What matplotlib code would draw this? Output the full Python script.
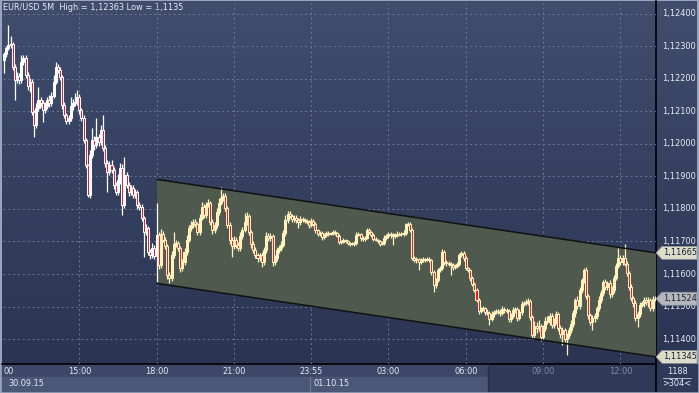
import numpy as np
import matplotlib.pyplot as plt
from matplotlib.patches import Rectangle, Polygon

# EUR/USD 5M candles, prices in points (1e-5) above 1.11000
open_first = 1258
close_pts = [
    1277, 1295, 1305, 1308, 1237, 1197, 1209, 1197, 1252, 1265,
    1212, 1178, 1191, 1098, 1058, 1111, 1135, 1126, 1105, 1117,
    1135, 1126, 1148, 1191, 1237, 1228, 1206, 1120, 1089, 1071,
    1080, 1117, 1126, 1129, 1145, 1105, 1080, 1012, 935, 843,
    966, 1012, 997, 1021, 1006, 1043, 988, 941, 914, 935,
    920, 874, 852, 889, 926, 812, 905, 874, 852, 865,
    843, 852, 812, 806, 772, 729, 741, 668, 658, 680,
    655, 720, 628, 723, 705, 686, 597, 588, 658, 692,
    695, 680, 618, 637, 668, 705, 741, 751, 760, 754,
    729, 772, 806, 781, 812, 818, 760, 735, 751, 791,
    818, 834, 840, 803, 751, 705, 686, 705, 689, 680,
    717, 735, 760, 778, 729, 692, 674, 658, 649, 658,
    637, 674, 717, 711, 717, 637, 649, 674, 680, 689,
    726, 766, 785, 778, 769, 772, 766, 760, 769, 766,
    763, 760, 751, 763, 754, 735, 723, 726, 714, 720,
    726, 723, 726, 729, 726, 717, 698, 698, 705, 701,
    695, 692, 692, 695, 720, 723, 711, 708, 711, 735,
    729, 720, 708, 705, 701, 692, 695, 711, 717, 723,
    720, 717, 723, 720, 723, 723, 726, 754, 754, 735,
    649, 643, 646, 637, 643, 646, 643, 646, 643, 606,
    566, 581, 612, 618, 668, 637, 634, 631, 628, 621,
    625, 631, 658, 665, 649, 618, 612, 588, 569, 551,
    520, 486, 492, 495, 483, 480, 461, 477, 483, 486,
    483, 480, 492, 489, 486, 461, 471, 489, 492, 465,
    483, 508, 511, 514, 517, 468, 412, 440, 434, 440,
    406, 434, 455, 452, 471, 443, 452, 477, 434, 415,
    428, 400, 412, 428, 446, 480, 520, 501, 551, 581,
    612, 532, 474, 452, 465, 471, 495, 520, 541, 575,
    560, 572, 538, 551, 588, 625, 649, 637, 649, 631,
    603, 560, 526, 511, 465, 477, 505, 511, 520, 514,
    520, 495, 523, 524,
]
upper_wick = [
    5, 8, 61, 24, 6, 9, 12, 8, 22, 10,
    8, 10, 12, 9, 6, 14, 40, 10, 8, 12,
    10, 15, 12, 21, 15, 10, 8, 6, 10, 6,
    8, 28, 12, 28, 21, 10, 6, 8, 6, 4,
    15, 37, 12, 59, 10, 15, 46, 8, 10, 12,
    15, 8, 10, 20, 15, 12, 55, 10, 8, 10,
    8, 10, 6, 10, 8, 6, 12, 8, 10, 15,
    8, 98, 10, 15, 10, 8, 6, 10, 12, 37,
    10, 8, 6, 10, 12, 15, 10, 12, 8, 10,
    6, 12, 15, 8, 10, 12, 6, 8, 10, 12,
    15, 34, 10, 8, 6, 8, 10, 12, 10, 8,
    12, 10, 28, 12, 8, 6, 8, 10, 6, 8,
    10, 8, 12, 10, 8, 6, 10, 8, 10, 12,
    10, 15, 10, 8, 6, 8, 10, 6, 8, 6,
    5, 6, 5, 8, 6, 5, 4, 6, 5, 6,
    5, 6, 4, 5, 6, 4, 5, 6, 5, 4,
    5, 4, 5, 6, 8, 5, 4, 6, 5, 8,
    5, 4, 5, 6, 4, 5, 6, 8, 6, 5,
    5, 6, 4, 8, 5, 6, 8, 3, 6, 5,
    5, 6, 5, 4, 6, 5, 4, 6, 5, 4,
    5, 8, 6, 8, 9, 6, 5, 6, 5, 6,
    5, 6, 8, 6, 5, 6, 5, 4, 5, 6,
    5, 6, 8, 6, 5, 8, 6, 8, 6, 5,
    6, 8, 10, 6, 5, 6, 8, 10, 6, 5,
    8, 10, 6, 8, 10, 5, 6, 15, 12, 18,
    6, 10, 12, 15, 10, 8, 12, 10, 6, 8,
    10, 6, 8, 10, 12, 10, 6, 12, 10, 8,
    6, 10, 8, 6, 8, 10, 8, 12, 10, 8,
    10, 8, 10, 12, 8, 10, 31, 10, 8, 43,
    10, 6, 8, 6, 8, 10, 8, 6, 8, 10,
    8, 6, 10, 8,
]
lower_wick = [
    40, 8, 6, 10, 8, 62, 10, 12, 8, 10,
    8, 12, 18, 10, 37, 8, 10, 12, 37, 10,
    8, 12, 10, 8, 6, 10, 8, 12, 10, 8,
    10, 8, 12, 10, 8, 12, 10, 8, 10, 6,
    10, 8, 15, 10, 12, 8, 10, 12, 62, 10,
    8, 12, 10, 8, 12, 30, 10, 8, 12, 10,
    8, 10, 12, 10, 8, 77, 10, 8, 12, 10,
    10, 80, 12, 10, 8, 10, 12, 16, 10, 8,
    10, 8, 12, 10, 8, 10, 6, 8, 10, 8,
    10, 8, 6, 10, 8, 6, 10, 12, 8, 10,
    8, 6, 10, 8, 10, 12, 34, 10, 8, 10,
    8, 10, 6, 8, 10, 12, 8, 10, 12, 8,
    15, 10, 8, 10, 8, 12, 10, 8, 10, 8,
    6, 8, 10, 6, 8, 10, 8, 19, 8, 6,
    5, 6, 8, 5, 6, 8, 5, 6, 8, 5,
    6, 5, 4, 6, 5, 4, 6, 5, 4, 5,
    6, 5, 4, 6, 5, 4, 8, 5, 6, 4,
    5, 6, 5, 4, 6, 5, 4, 5, 6, 5,
    8, 28, 5, 6, 4, 5, 6, 5, 6, 5,
    6, 5, 8, 25, 5, 6, 5, 4, 6, 8,
    21, 8, 6, 5, 6, 8, 10, 6, 31, 8,
    6, 8, 5, 6, 8, 6, 5, 8, 6, 5,
    6, 8, 6, 5, 8, 6, 18, 6, 8, 5,
    6, 8, 5, 8, 6, 10, 8, 6, 8, 10,
    6, 8, 5, 6, 8, 10, 12, 8, 15, 10,
    12, 8, 10, 6, 8, 10, 8, 6, 10, 12,
    34, 10, 49, 8, 10, 8, 12, 10, 8, 10,
    8, 10, 12, 10, 24, 12, 8, 10, 8, 10,
    8, 10, 12, 8, 10, 6, 8, 10, 8, 6,
    8, 10, 8, 12, 10, 28, 10, 8, 12, 8,
    15, 10, 8, 6,
]

price_ticks = [1.114, 1.115, 1.116, 1.117, 1.118, 1.119, 1.120, 1.121, 1.122, 1.123, 1.124]
time_ticks = [36, 72, 108, 144, 180, 216, 252, 288]
time_labels = ["15:00", "18:00", "21:00", "23:55", "03:00", "06:00", "09:00", "12:00"]
date_labels = ["30.09.15", "01.10.15"]
title = "EUR/USD 5M  High = 1,12363 Low = 1,1135"

# trend channel (candle index, price)
chan_x = [72.2, 304.6]
chan_upper = [1.11891, 1.11665]
chan_lower = [1.11571, 1.11345]
last_close = 1.11524

W, H = 699, 393
ylo, yhi = 1.113231, 1.124338
xlo, xhi = 0.466, 304.6

cl = 1.11 + np.array(close_pts) / 1e5
op = np.concatenate([[1.11 + open_first / 1e5], cl[:-1]])
hi = np.maximum(op, cl) + np.array(upper_wick) / 1e5
lo = np.minimum(op, cl) - np.array(lower_wick) / 1e5
idx = np.arange(1, len(cl) + 1)

def ypix(p):
    return 3 + (yhi - p) / (yhi - ylo) * 361

def xpix(i):
    return 3 + (i - xlo) / (xhi - xlo) * 653

fig = plt.figure(figsize=(W / 100, H / 100), dpi=100, facecolor="#98a5bc")

# background / frame layer in pixel coords
bg = fig.add_axes([0, 0, 1, 1])
bg.set_xlim(0, W)
bg.set_ylim(H, 0)
bg.axis("off")
grad = np.linspace(0, 1, 256)[:, None]
top_c = np.array([0x40, 0x4d, 0x6d]) / 255
bot_c = np.array([0x2b, 0x34, 0x53]) / 255
img = top_c[None, None, :] * (1 - grad[:, :, None]) + bot_c[None, None, :] * grad[:, :, None]
bg.imshow(img, extent=(2, 697, 364, 1), aspect="auto", zorder=0)

# bottom time panel
bg.add_patch(Rectangle((2, 364), 486, 13, color="#3d4868", zorder=1))
bg.add_patch(Rectangle((2, 377), 486, 14, color="#4b5777", zorder=1))
bg.add_patch(Rectangle((488, 364), 168, 27, color="#2f3a59", zorder=1))
bg.add_patch(Rectangle((656, 364), 41, 27, color="#2f3a59", zorder=1))
bg.plot([2, 656], [364, 364], color="black", lw=1.2, zorder=2)
bg.plot([656, 656], [1, 391], color="black", lw=1.2, zorder=2)
bg.plot([310, 310], [377, 391], color="#6f7b95", lw=0.8, zorder=2)
bg.plot([488, 488], [364, 391], color="#27304a", lw=0.8, zorder=2)
bg.plot([663, 691], [378, 378], color="#c8d0e0", lw=0.6, zorder=2)

tc = "#e6ecf6"
fs = 5.9
bg.text(3, 8, title, color=tc, fontsize=fs, va="center", ha="left", zorder=5)
bg.text(3, 371, "00", color=tc, fontsize=fs, va="center", ha="left", zorder=3)
for t, lab in zip(time_ticks, time_labels):
    px = xpix(t)
    col = "#808ba4" if px > 488 else tc
    bg.text(px, 371, lab, color=col, fontsize=fs, va="center", ha="center", zorder=3)
bg.text(8, 384, date_labels[0], color=tc, fontsize=fs, va="center", ha="left", zorder=3)
bg.text(313, 384, date_labels[1], color=tc, fontsize=fs, va="center", ha="left", zorder=3)
bg.text(677, 371, "1188", color=tc, fontsize=fs, va="center", ha="center", zorder=3)
bg.text(677, 384, ">304<", color=tc, fontsize=fs, va="center", ha="center", zorder=3)

# price labels and tags on the right
for p in price_ticks:
    bg.text(662, ypix(p), f"{p:.5f}".replace(".", ","), color=tc, fontsize=fs,
            va="center", ha="left", zorder=3)

def tag(p, face):
    yc = ypix(p)
    pts = [(656, yc), (662, yc - 6.5), (697, yc - 6.5), (697, yc + 6.5), (662, yc + 6.5)]
    bg.add_patch(Polygon(pts, closed=True, facecolor=face, edgecolor="#8a8f96", lw=0.5, zorder=4))
    bg.text(663, yc, f"{p:.5f}".replace(".", ","), color="#1a1f2a", fontsize=fs,
            va="center", ha="left", zorder=5)

tag(chan_upper[1], "#dcdccb")
tag(last_close, "#b4b8bd")
tag(chan_lower[1], "#dcdccb")

# main chart
ax = fig.add_axes([3 / W, (H - 364) / H, 653 / W, 361 / H])
ax.set_xlim(xlo, xhi)
ax.set_ylim(ylo, yhi)
ax.axis("off")
ax.patch.set_alpha(0)

for p in price_ticks:
    ax.axhline(p, color="#6a7893", lw=0.7, dashes=(2, 3), zorder=1)
for t in time_ticks:
    ax.axvline(t, color="#6a7893", lw=0.7, dashes=(2, 3), zorder=1)

ax.add_patch(Polygon([(chan_x[0], chan_upper[0]), (chan_x[1], chan_upper[1]),
                      (chan_x[1], chan_lower[1]), (chan_x[0], chan_lower[0])],
                     closed=True, facecolor="#4f594d", edgecolor="none", zorder=2))
ax.plot(chan_x, chan_upper, color="#111111", lw=1.1, zorder=5)
ax.plot(chan_x, chan_lower, color="#111111", lw=1.1, zorder=5)

inside = idx >= 73
edge = np.where(inside, "#fff2bd", "#ffffff")
up = cl >= op
face = np.where(up, edge, "#e8132b")
ax.vlines(idx, lo, hi, colors=edge, lw=0.9, zorder=3)
ax.bar(idx, np.maximum(np.abs(cl - op), 1e-6), bottom=np.minimum(op, cl), width=0.95,
       color=face, edgecolor=edge, linewidth=0.75, zorder=4)

fig.savefig("out.png", dpi=100, facecolor=fig.get_facecolor())
